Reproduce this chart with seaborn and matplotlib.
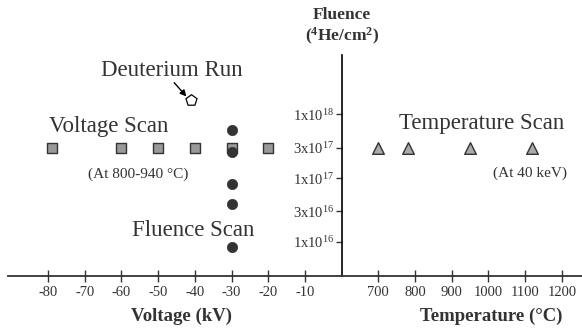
import numpy as np
import pandas as pd
import seaborn as sns
import matplotlib
matplotlib.use("Agg")
import matplotlib.pyplot as plt

sns.set_theme(style="white")
plt.rcParams['font.family'] = ['Liberation Serif', 'DejaVu Serif']
plt.rcParams['mathtext.fontset'] = 'custom'
plt.rcParams['mathtext.rm'] = 'Liberation Serif'
plt.rcParams['mathtext.bf'] = 'Liberation Serif:bold'
plt.rcParams['mathtext.it'] = 'Liberation Serif:italic'

# ---------------- data ----------------
voltage_scan_kV = [-79, -60, -50, -40, -30, -20]
voltage_scan_fluence = [3e17, 3e17, 3e17, 3e17, 3e17, 3e17]

fluence_scan_kV = [-30, -30, -30, -30, -30]
fluence_scan_fluence = [5.7e17, 2.6e17, 8.1e16, 3.9e16, 8.3e15]

temperature_scan_C = [700, 780, 950, 1120]
temperature_scan_fluence = [3e17, 3e17, 3e17, 3e17]

deuterium_kV = [-41]
deuterium_fluence = [1.7e18]

voltage_ticks = [-80, -70, -60, -50, -40, -30, -20, -10]
temperature_ticks = [700, 800, 900, 1000, 1100, 1200]
fluence_ticks = [1e16, 3e16, 1e17, 3e17, 1e18]
fluence_tick_labels = [r'1x10$^{16}$', r'3x10$^{16}$', r'1x10$^{17}$',
                       r'3x10$^{17}$', r'1x10$^{18}$']

# composite x-axis: voltage on the left of the fluence axis, temperature on the right
def v2u(v):
    return np.asarray(v, dtype=float) / 10.0

def t2u(t):
    return (np.asarray(t, dtype=float) - 700.0) / 100.0 + 1.0

dfv = pd.DataFrame({'u': v2u(voltage_scan_kV), 'f': voltage_scan_fluence})
dff = pd.DataFrame({'u': v2u(fluence_scan_kV), 'f': fluence_scan_fluence})
dft = pd.DataFrame({'u': t2u(temperature_scan_C), 'f': temperature_scan_fluence})
dfd = pd.DataFrame({'u': v2u(deuterium_kV), 'f': deuterium_fluence})

W, H = 582, 330
fig = plt.figure(figsize=(W / 100, H / 100), dpi=100)
ax = fig.add_axes([8 / W, 1 - 276 / H, 1 - 8 / W, (276 - 55) / H])
ax.set_facecolor('none')

dark = '#333333'

sns.scatterplot(data=dfv, x='u', y='f', marker='s', s=62, color='#999999',
                edgecolor=dark, linewidth=1.0, ax=ax, zorder=3)
sns.scatterplot(data=dff, x='u', y='f', marker='o', s=55, color=dark,
                edgecolor=dark, linewidth=0.5, ax=ax, zorder=4)
sns.scatterplot(data=dft, x='u', y='f', marker='^', s=70, color='#aaaaaa',
                edgecolor=dark, linewidth=1.0, ax=ax, zorder=3)
sns.scatterplot(data=dfd, x='u', y='f', marker='p', s=70, color='white',
                edgecolor='black', linewidth=0.9, ax=ax, zorder=3)

ax.set_yscale('log')
ax.set_xlim(-9.09, 6.55)
ax.set_ylim(10 ** 15.461, 10 ** 18.935)

# spines
for s in ['top', 'right']:
    ax.spines[s].set_visible(False)
ax.spines['left'].set_position(('data', 0))
ax.spines['left'].set_color('black')
ax.spines['left'].set_linewidth(1.2)
ax.spines['bottom'].set_color(dark)
ax.spines['bottom'].set_linewidth(1.3)

# x ticks
xt = list(v2u(voltage_ticks)) + list(t2u(temperature_ticks))
xl = [str(v) for v in voltage_ticks] + [str(t) for t in temperature_ticks]
ax.set_xticks(xt)
ax.set_xticklabels(xl)
ax.tick_params(axis='x', direction='inout', length=8, width=1.0, color=dark,
               labelsize=10.5, labelcolor=dark, pad=3, bottom=True)

# y ticks
ax.set_yticks(fluence_ticks)
ax.set_yticklabels(fluence_tick_labels)
ax.yaxis.set_minor_locator(matplotlib.ticker.NullLocator())
ax.tick_params(axis='y', direction='out', length=4.5, width=1.0, color=dark,
               labelsize=10.5, labelcolor=dark, pad=1, left=True)

ax.set_xlabel('')
ax.set_ylabel('')
ax.grid(False)

def px2data(px, py):
    u = (px - 341.7) / 36.7
    f = 10 ** (16 + (241.7 - py) / 63.6)
    return u, f

big = 16.5
for txt, px, py, size in [('Deuterium Run', 172, 71, big),
                          ('Voltage Scan', 108.5, 126.7, big),
                          ('(At 800-940 °C)', 138, 174, 11),
                          ('Fluence Scan', 193, 230, big),
                          ('Temperature Scan', 482, 123.3, big),
                          ('(At 40 keV)', 530, 173.3, 11)]:
    u, f = px2data(px, py)
    ax.text(u, f, txt, ha='center', va='center', fontsize=size, color=dark)

tail = px2data(174.3, 82.7)
head = px2data(186.5, 96.5)
ax.annotate('', xy=head, xytext=tail,
            arrowprops=dict(arrowstyle='-|>', color='black', lw=1.0,
                            mutation_scale=9, shrinkA=0, shrinkB=0))

fig.text(341.7 / W, 1 - 15 / H, 'Fluence', ha='center', va='center',
         fontsize=12.5, fontweight='bold', color=dark)
fig.text(341.7 / W, 1 - 36 / H, r'($\mathbf{^{4}}$He/cm$\mathbf{^{2}}$)',
         ha='center', va='center', fontsize=12.5, fontweight='bold', color=dark)
fig.text(181.7 / W, 1 - 316 / H, 'Voltage (kV)', ha='center', va='center',
         fontsize=13.5, fontweight='bold', color=dark)
fig.text(491.7 / W, 1 - 316 / H, 'Temperature (°C)', ha='center', va='center',
         fontsize=13.5, fontweight='bold', color=dark)

fig.savefig('out.png', dpi=100)
